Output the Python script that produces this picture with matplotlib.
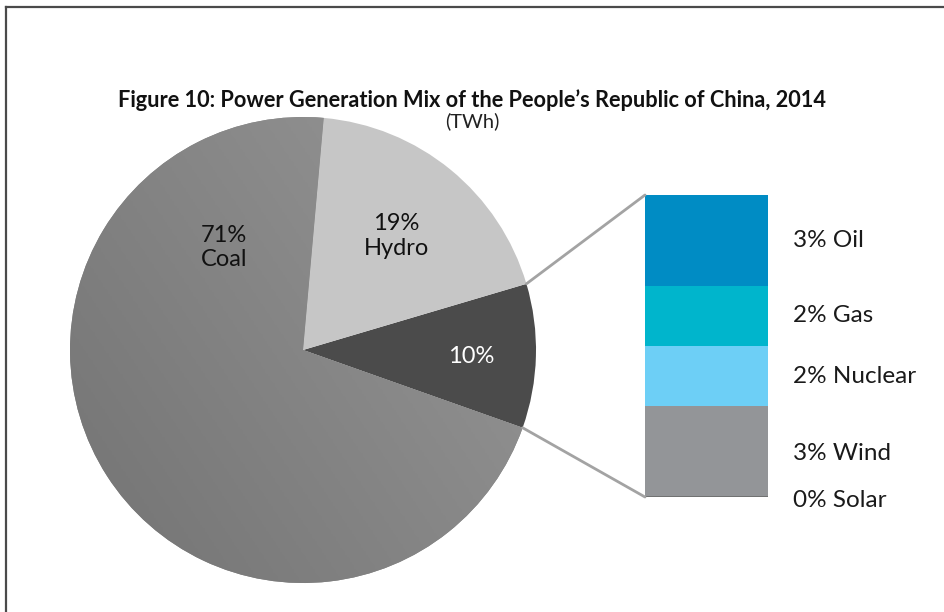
import numpy as np
import matplotlib
matplotlib.use("Agg")
import matplotlib.pyplot as plt
from matplotlib.patches import ConnectionPatch
from matplotlib.lines import Line2D
from matplotlib.colors import LinearSegmentedColormap
import matplotlib.transforms as mtransforms

plt.rcParams['font.family'] = ['Lato', 'DejaVu Sans']

# pie data (share of generation, %)
pie_names = ['Other', 'Hydro', 'Coal']
pie_values = [10, 19, 71]
pie_labels = ['10%', '19%\nHydro', '71%\nCoal']
pie_colors = ['#4b4b4b', '#c6c6c6', '#858585']

# breakdown of "other"
bar_names = ['Solar', 'Wind', 'Nuclear', 'Gas', 'Oil']
bar_values = [0, 3, 2, 2, 3]
bar_colors = ['#939598', '#939598', '#6dcff6', '#00b5cc', '#008cc4']

W, H = 945, 612
fig = plt.figure(figsize=(W / 100, H / 100), dpi=100)

# frame (top and left rules)
fig.add_artist(Line2D([6 / W, 1], [1 - 7 / H, 1 - 7 / H], color='#4a4a4a', lw=1.6))
fig.add_artist(Line2D([6 / W, 6 / W], [0, 1 - 7 / H], color='#4a4a4a', lw=1.6))

fig.text(0.5, 1 - 100 / H, "Figure 10: Power Generation Mix of the People\u2019s Republic of China, 2014",
         ha='center', va='center', fontsize=15.7, fontweight='bold', color='#111111')
fig.text(0.5, 1 - 121 / H, "(TWh)", ha='center', va='center', fontsize=14.5, color='#222222')

# pie
ax = fig.add_axes([70 / W, 29 / H, 466 / W, 466 / H])
wedges, _ = ax.pie(pie_values, colors=pie_colors, startangle=-19.5, counterclock=True,
                   radius=1, wedgeprops=dict(linewidth=0))

# subtle shading on coal
cmap = LinearSegmentedColormap.from_list('coal', ['#737373', '#989898'])
gx, gy = np.meshgrid(np.linspace(-1, 1, 200), np.linspace(-1, 1, 200))
grad = gx * 0.6 + gy * 0.4
img = ax.imshow(grad, extent=(-1, 1, -1, 1), origin='lower', cmap=cmap, zorder=1.5)
img.set_clip_path(wedges[2])
ax.set_xlim(-1, 1)
ax.set_ylim(-1, 1)
ax.set_aspect('equal')
ax.axis('off')

label_pos = [(0.72, -0.03, 'white'), (0.40, 0.49, '#111111'), (-0.34, 0.44, '#111111')]
for (lx, ly, c), txt in zip(label_pos, pie_labels):
    ax.text(lx, ly, txt, ha='center', va='center', fontsize=17, color=c,
            linespacing=1.2, zorder=3)

# stacked bar
bx = fig.add_axes([645 / W, 115 / H, 123 / W, 302 / H])
bottom = 0
mids = []
for name, v, c in zip(bar_names, bar_values, bar_colors):
    bx.bar(0, v, bottom=bottom, width=1, color=c, linewidth=0)
    mids.append(bottom + v / 2)
    bottom += v
bx.set_xlim(-0.5, 0.5)
bx.set_ylim(0, sum(bar_values))
bx.axis('off')
bx.axhline(0, color='#6b6b6b', lw=1.2)

tr = mtransforms.blended_transform_factory(bx.transAxes, bx.transData)
for name, v, m in zip(bar_names, bar_values, mids):
    y = m if v > 0 else -0.1
    if name == 'Wind':
        y = m - 0.05
    bx.text(1.2, y, f"{v}% {name}", transform=tr, ha='left', va='center',
            fontsize=17.5, color='#1a1a1a')

# connector lines from the "other" wedge to the bar
w = wedges[0]
for ang, yb in [(w.theta2, sum(bar_values)), (w.theta1, 0)]:
    p = (np.cos(np.radians(ang)), np.sin(np.radians(ang)))
    con = ConnectionPatch(xyA=p, coordsA=ax.transData, xyB=(-0.5, yb), coordsB=bx.transData,
                          color='#a3a3a3', lw=2)
    fig.add_artist(con)

fig.savefig('out.png', dpi=100)
